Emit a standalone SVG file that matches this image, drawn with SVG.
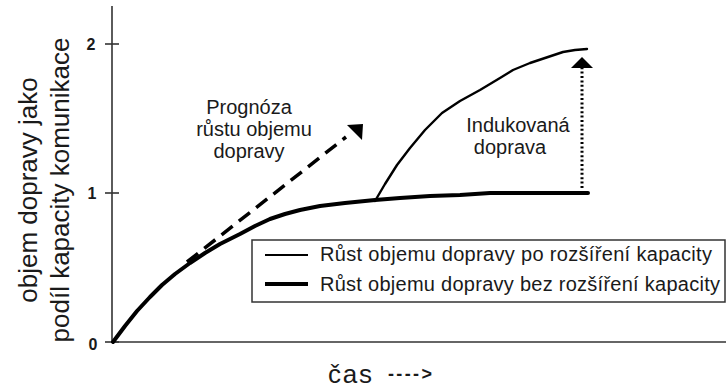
<svg xmlns="http://www.w3.org/2000/svg" width="726" height="390" viewBox="0 0 726 390">
<style>
  text { font-family: "Liberation Sans", Arial, sans-serif; fill: #1a1a1a; }
  .lbl { font-size: 20px; }
  .tick { font-size: 16px; font-weight: bold; }
  .axis { stroke: #333; stroke-width: 1.6; fill: none; }
  .thick { stroke: #000; stroke-width: 4; fill: none; stroke-linejoin: round; stroke-linecap: round; }
  .thin { stroke: #000; stroke-width: 2.4; fill: none; stroke-linejoin: round; stroke-linecap: round; }
</style>
<rect width="726" height="390" fill="#fff"/>
<g id="axes">
  <line class="axis" x1="112" y1="6" x2="112" y2="343"/>
  <line class="axis" x1="112" y1="342" x2="726" y2="342"/>
  <line class="axis" x1="105" y1="44" x2="119" y2="44"/>
  <line class="axis" x1="105" y1="193" x2="119" y2="193"/>
  <line class="axis" x1="105" y1="342" x2="119" y2="342"/>
  <text class="tick" x="91" y="50" text-anchor="middle">2</text>
  <text class="tick" x="92" y="199" text-anchor="middle">1</text>
  <text class="tick" x="93" y="350" text-anchor="middle">0</text>
</g>
<g id="ylabel">
  <text transform="translate(37,190) rotate(-90)" font-size="26" text-anchor="middle">objem dopravy jako</text>
  <text transform="translate(69,190) rotate(-90)" font-size="26" text-anchor="middle">podíl kapacity komunikace</text>
</g>
<g id="xlabel">
  <text x="328" y="383" font-size="26" textLength="44">čas</text>
  <text x="388" y="380" font-size="18" font-weight="bold" textLength="44">----&gt;</text>
</g>
<g id="curves">
  <polyline id="bez" class="thick" points="113,342 125,326 137,311 150,297 162,285 175,274 190,263 205,253 220,244 240,234 255,226 270,219 285,214 300,210 320,206 345,203 375,200 400,198 430,196 460,195 490,193 588,193"/>
  <polyline id="po" class="thin" points="375,201 385,184 397,165 410,148 425,130 442,113 460,101 480,90 500,78 513,70 530,63 548,57 563,52 575,50 587,49"/>
</g>
<g id="connectors">
  <line x1="187" y1="262" x2="346" y2="137" stroke="#000" stroke-width="3.5" stroke-dasharray="14,8"/>
  <polygon points="347,125 363,124 362,140" fill="#000"/>
  <line x1="582" y1="188" x2="582" y2="68" stroke="#000" stroke-width="3" stroke-dasharray="2,2.4"/>
  <polygon points="582,57 593,68 571,68" fill="#000"/>
</g>
<g id="prognoza">
  <text class="lbl" x="249" y="114" text-anchor="middle">Prognóza</text>
  <text class="lbl" x="254" y="136" text-anchor="middle">růstu objemu</text>
  <text class="lbl" x="249" y="158" text-anchor="middle">dopravy</text>
</g>
<g id="indukovana">
  <text class="lbl" x="518" y="132" text-anchor="middle">Indukovaná</text>
  <text class="lbl" x="510" y="154" text-anchor="middle">doprava</text>
</g>
<g id="legend">
  <rect x="252" y="240" width="473" height="62" fill="#fff" stroke="#333" stroke-width="1.5"/>
  <line x1="265" y1="255" x2="308" y2="255" stroke="#000" stroke-width="2.2"/>
  <line x1="265" y1="284" x2="308" y2="284" stroke="#000" stroke-width="4"/>
  <text class="lbl" x="320" y="261" textLength="392">Růst objemu dopravy po rozšíření kapacity</text>
  <text class="lbl" x="320" y="291" textLength="400">Růst objemu dopravy bez rozšíření kapacity</text>
</g>
</svg>
